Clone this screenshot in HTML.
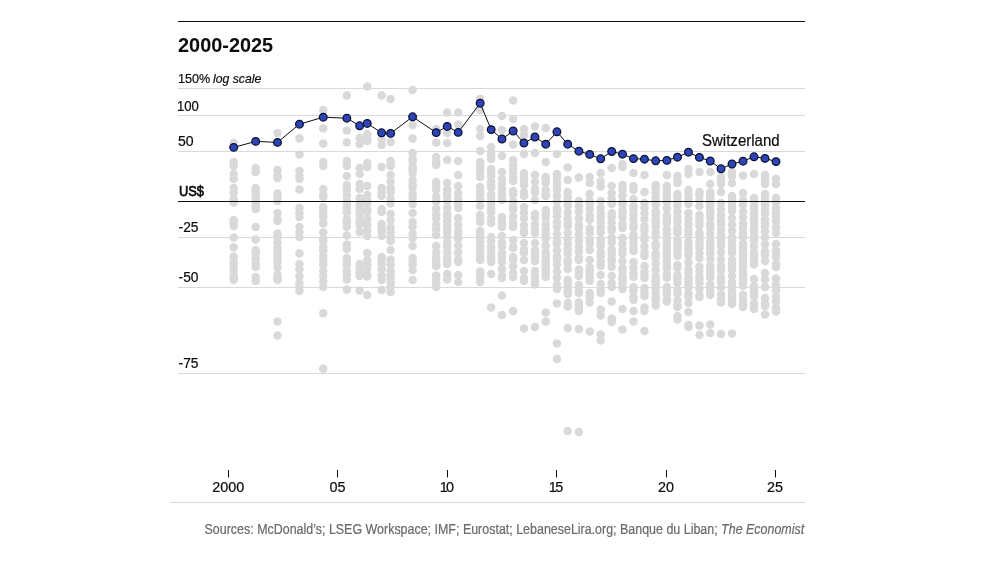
<!DOCTYPE html>
<html lang="en">
<head>
<meta charset="utf-8">
<title>2000-2025</title>
<style>
html,body{margin:0;padding:0;background:#fff;}
body{width:1001px;height:563px;position:relative;overflow:hidden;font-family:"Liberation Sans",sans-serif;color:#0d0d0d;}
svg{position:absolute;left:0;top:0;}
.layer{position:absolute;left:0;top:0;width:1001px;height:563px;will-change:transform;}
.t{position:absolute;white-space:nowrap;line-height:1;-webkit-text-stroke:0.22px currentColor;}
</style>
</head>
<body>
<svg width="1001" height="563" viewBox="0 0 1001 563">
<line x1="178" x2="805" y1="88.5" y2="88.5" stroke="#d9d9d9" stroke-width="1"/>
<line x1="178" x2="805" y1="115.5" y2="115.5" stroke="#d9d9d9" stroke-width="1"/>
<line x1="178" x2="805" y1="151.5" y2="151.5" stroke="#d9d9d9" stroke-width="1"/>
<line x1="178" x2="805" y1="237.5" y2="237.5" stroke="#d9d9d9" stroke-width="1"/>
<line x1="178" x2="805" y1="287.5" y2="287.5" stroke="#d9d9d9" stroke-width="1"/>
<line x1="178" x2="805" y1="373.5" y2="373.5" stroke="#d9d9d9" stroke-width="1"/>
<g fill="#d9d9d9">
<circle cx="233.70" cy="143.0" r="4.25"/>
<circle cx="233.70" cy="162.0" r="4.25"/>
<circle cx="233.70" cy="166.0" r="4.25"/>
<circle cx="233.70" cy="174.0" r="4.25"/>
<circle cx="233.70" cy="179.0" r="4.25"/>
<circle cx="233.70" cy="188.0" r="4.25"/>
<circle cx="233.70" cy="192.8" r="4.25"/>
<circle cx="233.70" cy="199.2" r="4.25"/>
<circle cx="233.70" cy="202.6" r="4.25"/>
<circle cx="233.70" cy="219.9" r="4.25"/>
<circle cx="233.70" cy="222.9" r="4.25"/>
<circle cx="233.70" cy="226.0" r="4.25"/>
<circle cx="233.70" cy="237.5" r="4.25"/>
<circle cx="233.70" cy="247.3" r="4.25"/>
<circle cx="233.70" cy="256.5" r="4.25"/>
<circle cx="233.70" cy="262.1" r="4.25"/>
<circle cx="233.70" cy="265.1" r="4.25"/>
<circle cx="233.70" cy="269.3" r="4.25"/>
<circle cx="233.70" cy="274.9" r="4.25"/>
<circle cx="233.70" cy="277.9" r="4.25"/>
<circle cx="233.70" cy="280.0" r="4.25"/>
<circle cx="255.69" cy="168.0" r="4.25"/>
<circle cx="255.69" cy="172.0" r="4.25"/>
<circle cx="255.69" cy="188.0" r="4.25"/>
<circle cx="255.69" cy="191.0" r="4.25"/>
<circle cx="255.69" cy="194.0" r="4.25"/>
<circle cx="255.69" cy="198.8" r="4.25"/>
<circle cx="255.69" cy="203.6" r="4.25"/>
<circle cx="255.69" cy="206.6" r="4.25"/>
<circle cx="255.69" cy="209.0" r="4.25"/>
<circle cx="255.69" cy="227.0" r="4.25"/>
<circle cx="255.69" cy="239.6" r="4.25"/>
<circle cx="255.69" cy="250.0" r="4.25"/>
<circle cx="255.69" cy="253.0" r="4.25"/>
<circle cx="255.69" cy="258.6" r="4.25"/>
<circle cx="255.69" cy="263.4" r="4.25"/>
<circle cx="255.69" cy="267.0" r="4.25"/>
<circle cx="255.69" cy="277.0" r="4.25"/>
<circle cx="255.69" cy="281.0" r="4.25"/>
<circle cx="277.48" cy="133.0" r="4.25"/>
<circle cx="277.48" cy="170.0" r="4.25"/>
<circle cx="277.48" cy="175.6" r="4.25"/>
<circle cx="277.48" cy="178.0" r="4.25"/>
<circle cx="277.48" cy="193.5" r="4.25"/>
<circle cx="277.48" cy="197.1" r="4.25"/>
<circle cx="277.48" cy="201.0" r="4.25"/>
<circle cx="277.48" cy="213.0" r="4.25"/>
<circle cx="277.48" cy="219.4" r="4.25"/>
<circle cx="277.48" cy="221.0" r="4.25"/>
<circle cx="277.48" cy="233.6" r="4.25"/>
<circle cx="277.48" cy="236.6" r="4.25"/>
<circle cx="277.48" cy="242.2" r="4.25"/>
<circle cx="277.48" cy="247.8" r="4.25"/>
<circle cx="277.48" cy="252.6" r="4.25"/>
<circle cx="277.48" cy="255.6" r="4.25"/>
<circle cx="277.48" cy="259.2" r="4.25"/>
<circle cx="277.48" cy="262.2" r="4.25"/>
<circle cx="277.48" cy="267.8" r="4.25"/>
<circle cx="277.48" cy="274.8" r="4.25"/>
<circle cx="277.48" cy="278.4" r="4.25"/>
<circle cx="277.48" cy="280.0" r="4.25"/>
<circle cx="277.48" cy="321.6" r="4.25"/>
<circle cx="277.48" cy="335.4" r="4.25"/>
<circle cx="299.46" cy="138.6" r="4.25"/>
<circle cx="299.46" cy="154.4" r="4.25"/>
<circle cx="299.46" cy="171.0" r="4.25"/>
<circle cx="299.46" cy="175.8" r="4.25"/>
<circle cx="299.46" cy="179.0" r="4.25"/>
<circle cx="299.46" cy="189.6" r="4.25"/>
<circle cx="299.46" cy="208.0" r="4.25"/>
<circle cx="299.46" cy="213.6" r="4.25"/>
<circle cx="299.46" cy="217.0" r="4.25"/>
<circle cx="299.46" cy="227.0" r="4.25"/>
<circle cx="299.46" cy="232.6" r="4.25"/>
<circle cx="299.46" cy="237.0" r="4.25"/>
<circle cx="299.46" cy="253.4" r="4.25"/>
<circle cx="299.46" cy="264.0" r="4.25"/>
<circle cx="299.46" cy="269.6" r="4.25"/>
<circle cx="299.46" cy="276.6" r="4.25"/>
<circle cx="299.46" cy="283.0" r="4.25"/>
<circle cx="299.46" cy="286.6" r="4.25"/>
<circle cx="299.46" cy="291.0" r="4.25"/>
<circle cx="323.25" cy="110.0" r="4.25"/>
<circle cx="323.25" cy="128.6" r="4.25"/>
<circle cx="323.25" cy="143.6" r="4.25"/>
<circle cx="323.25" cy="162.0" r="4.25"/>
<circle cx="323.25" cy="166.0" r="4.25"/>
<circle cx="323.25" cy="189.0" r="4.25"/>
<circle cx="323.25" cy="194.6" r="4.25"/>
<circle cx="323.25" cy="197.0" r="4.25"/>
<circle cx="323.25" cy="207.0" r="4.25"/>
<circle cx="323.25" cy="210.6" r="4.25"/>
<circle cx="323.25" cy="214.8" r="4.25"/>
<circle cx="323.25" cy="217.8" r="4.25"/>
<circle cx="323.25" cy="223.6" r="4.25"/>
<circle cx="323.25" cy="232.4" r="4.25"/>
<circle cx="323.25" cy="238.8" r="4.25"/>
<circle cx="323.25" cy="241.8" r="4.25"/>
<circle cx="323.25" cy="247.4" r="4.25"/>
<circle cx="323.25" cy="250.4" r="4.25"/>
<circle cx="323.25" cy="256.0" r="4.25"/>
<circle cx="323.25" cy="259.6" r="4.25"/>
<circle cx="323.25" cy="264.4" r="4.25"/>
<circle cx="323.25" cy="270.8" r="4.25"/>
<circle cx="323.25" cy="276.4" r="4.25"/>
<circle cx="323.25" cy="281.2" r="4.25"/>
<circle cx="323.25" cy="287.0" r="4.25"/>
<circle cx="323.25" cy="313.2" r="4.25"/>
<circle cx="323.25" cy="368.8" r="4.25"/>
<circle cx="346.84" cy="95.4" r="4.25"/>
<circle cx="346.84" cy="130.6" r="4.25"/>
<circle cx="346.84" cy="142.4" r="4.25"/>
<circle cx="346.84" cy="161.0" r="4.25"/>
<circle cx="346.84" cy="166.0" r="4.25"/>
<circle cx="346.84" cy="176.0" r="4.25"/>
<circle cx="346.84" cy="185.0" r="4.25"/>
<circle cx="346.84" cy="189.8" r="4.25"/>
<circle cx="346.84" cy="195.4" r="4.25"/>
<circle cx="346.84" cy="200.2" r="4.25"/>
<circle cx="346.84" cy="204.4" r="4.25"/>
<circle cx="346.84" cy="208.6" r="4.25"/>
<circle cx="346.84" cy="212.2" r="4.25"/>
<circle cx="346.84" cy="219.2" r="4.25"/>
<circle cx="346.84" cy="222.8" r="4.25"/>
<circle cx="346.84" cy="227.0" r="4.25"/>
<circle cx="346.84" cy="235.6" r="4.25"/>
<circle cx="346.84" cy="244.6" r="4.25"/>
<circle cx="346.84" cy="249.0" r="4.25"/>
<circle cx="346.84" cy="258.0" r="4.25"/>
<circle cx="346.84" cy="261.6" r="4.25"/>
<circle cx="346.84" cy="264.6" r="4.25"/>
<circle cx="346.84" cy="270.2" r="4.25"/>
<circle cx="346.84" cy="274.4" r="4.25"/>
<circle cx="346.84" cy="279.6" r="4.25"/>
<circle cx="346.84" cy="289.4" r="4.25"/>
<circle cx="359.63" cy="138.0" r="4.25"/>
<circle cx="359.63" cy="144.0" r="4.25"/>
<circle cx="359.63" cy="168.0" r="4.25"/>
<circle cx="359.63" cy="174.0" r="4.25"/>
<circle cx="359.63" cy="184.0" r="4.25"/>
<circle cx="359.63" cy="189.0" r="4.25"/>
<circle cx="359.63" cy="198.0" r="4.25"/>
<circle cx="359.63" cy="204.4" r="4.25"/>
<circle cx="359.63" cy="209.2" r="4.25"/>
<circle cx="359.63" cy="213.4" r="4.25"/>
<circle cx="359.63" cy="219.0" r="4.25"/>
<circle cx="359.63" cy="222.0" r="4.25"/>
<circle cx="359.63" cy="225.0" r="4.25"/>
<circle cx="359.63" cy="232.0" r="4.25"/>
<circle cx="359.63" cy="264.0" r="4.25"/>
<circle cx="359.63" cy="268.8" r="4.25"/>
<circle cx="359.63" cy="272.4" r="4.25"/>
<circle cx="359.63" cy="276.0" r="4.25"/>
<circle cx="359.63" cy="290.4" r="4.25"/>
<circle cx="367.23" cy="86.4" r="4.25"/>
<circle cx="367.23" cy="134.0" r="4.25"/>
<circle cx="367.23" cy="138.2" r="4.25"/>
<circle cx="367.23" cy="141.0" r="4.25"/>
<circle cx="367.23" cy="163.0" r="4.25"/>
<circle cx="367.23" cy="167.0" r="4.25"/>
<circle cx="367.23" cy="186.0" r="4.25"/>
<circle cx="367.23" cy="195.0" r="4.25"/>
<circle cx="367.23" cy="199.8" r="4.25"/>
<circle cx="367.23" cy="202.8" r="4.25"/>
<circle cx="367.23" cy="209.2" r="4.25"/>
<circle cx="367.23" cy="212.2" r="4.25"/>
<circle cx="367.23" cy="219.2" r="4.25"/>
<circle cx="367.23" cy="224.8" r="4.25"/>
<circle cx="367.23" cy="230.4" r="4.25"/>
<circle cx="367.23" cy="236.0" r="4.25"/>
<circle cx="367.23" cy="253.0" r="4.25"/>
<circle cx="367.23" cy="260.0" r="4.25"/>
<circle cx="367.23" cy="264.2" r="4.25"/>
<circle cx="367.23" cy="268.4" r="4.25"/>
<circle cx="367.23" cy="274.8" r="4.25"/>
<circle cx="367.23" cy="276.4" r="4.25"/>
<circle cx="367.23" cy="295.0" r="4.25"/>
<circle cx="381.62" cy="95.4" r="4.25"/>
<circle cx="381.62" cy="139.0" r="4.25"/>
<circle cx="381.62" cy="145.0" r="4.25"/>
<circle cx="381.62" cy="167.0" r="4.25"/>
<circle cx="381.62" cy="188.0" r="4.25"/>
<circle cx="381.62" cy="192.8" r="4.25"/>
<circle cx="381.62" cy="196.0" r="4.25"/>
<circle cx="381.62" cy="209.0" r="4.25"/>
<circle cx="381.62" cy="212.0" r="4.25"/>
<circle cx="381.62" cy="224.0" r="4.25"/>
<circle cx="381.62" cy="228.8" r="4.25"/>
<circle cx="381.62" cy="231.8" r="4.25"/>
<circle cx="381.62" cy="236.0" r="4.25"/>
<circle cx="381.62" cy="257.0" r="4.25"/>
<circle cx="381.62" cy="260.0" r="4.25"/>
<circle cx="381.62" cy="264.2" r="4.25"/>
<circle cx="381.62" cy="269.0" r="4.25"/>
<circle cx="381.62" cy="275.4" r="4.25"/>
<circle cx="381.62" cy="280.0" r="4.25"/>
<circle cx="381.62" cy="290.0" r="4.25"/>
<circle cx="390.61" cy="99.0" r="4.25"/>
<circle cx="390.61" cy="142.0" r="4.25"/>
<circle cx="390.61" cy="161.0" r="4.25"/>
<circle cx="390.61" cy="164.0" r="4.25"/>
<circle cx="390.61" cy="166.0" r="4.25"/>
<circle cx="390.61" cy="175.0" r="4.25"/>
<circle cx="390.61" cy="181.4" r="4.25"/>
<circle cx="390.61" cy="187.8" r="4.25"/>
<circle cx="390.61" cy="192.0" r="4.25"/>
<circle cx="390.61" cy="198.4" r="4.25"/>
<circle cx="390.61" cy="203.6" r="4.25"/>
<circle cx="390.61" cy="214.0" r="4.25"/>
<circle cx="390.61" cy="220.4" r="4.25"/>
<circle cx="390.61" cy="227.4" r="4.25"/>
<circle cx="390.61" cy="232.2" r="4.25"/>
<circle cx="390.61" cy="236.4" r="4.25"/>
<circle cx="390.61" cy="241.0" r="4.25"/>
<circle cx="390.61" cy="250.0" r="4.25"/>
<circle cx="390.61" cy="259.6" r="4.25"/>
<circle cx="390.61" cy="264.4" r="4.25"/>
<circle cx="390.61" cy="270.8" r="4.25"/>
<circle cx="390.61" cy="275.0" r="4.25"/>
<circle cx="390.61" cy="278.0" r="4.25"/>
<circle cx="390.61" cy="282.8" r="4.25"/>
<circle cx="390.61" cy="287.0" r="4.25"/>
<circle cx="390.61" cy="292.0" r="4.25"/>
<circle cx="412.60" cy="90.0" r="4.25"/>
<circle cx="412.60" cy="125.0" r="4.25"/>
<circle cx="412.60" cy="138.6" r="4.25"/>
<circle cx="412.60" cy="153.0" r="4.25"/>
<circle cx="412.60" cy="158.6" r="4.25"/>
<circle cx="412.60" cy="161.6" r="4.25"/>
<circle cx="412.60" cy="166.4" r="4.25"/>
<circle cx="412.60" cy="169.4" r="4.25"/>
<circle cx="412.60" cy="173.0" r="4.25"/>
<circle cx="412.60" cy="180.0" r="4.25"/>
<circle cx="412.60" cy="184.2" r="4.25"/>
<circle cx="412.60" cy="187.8" r="4.25"/>
<circle cx="412.60" cy="194.2" r="4.25"/>
<circle cx="412.60" cy="197.8" r="4.25"/>
<circle cx="412.60" cy="204.0" r="4.25"/>
<circle cx="412.60" cy="213.0" r="4.25"/>
<circle cx="412.60" cy="222.0" r="4.25"/>
<circle cx="412.60" cy="226.8" r="4.25"/>
<circle cx="412.60" cy="233.8" r="4.25"/>
<circle cx="412.60" cy="238.0" r="4.25"/>
<circle cx="412.60" cy="246.0" r="4.25"/>
<circle cx="412.60" cy="258.0" r="4.25"/>
<circle cx="412.60" cy="261.0" r="4.25"/>
<circle cx="412.60" cy="264.6" r="4.25"/>
<circle cx="412.60" cy="270.0" r="4.25"/>
<circle cx="412.60" cy="280.0" r="4.25"/>
<circle cx="436.19" cy="129.0" r="4.25"/>
<circle cx="436.19" cy="142.6" r="4.25"/>
<circle cx="436.19" cy="157.0" r="4.25"/>
<circle cx="436.19" cy="161.8" r="4.25"/>
<circle cx="436.19" cy="165.0" r="4.25"/>
<circle cx="436.19" cy="182.0" r="4.25"/>
<circle cx="436.19" cy="186.2" r="4.25"/>
<circle cx="436.19" cy="189.8" r="4.25"/>
<circle cx="436.19" cy="196.8" r="4.25"/>
<circle cx="436.19" cy="201.6" r="4.25"/>
<circle cx="436.19" cy="208.6" r="4.25"/>
<circle cx="436.19" cy="214.2" r="4.25"/>
<circle cx="436.19" cy="218.4" r="4.25"/>
<circle cx="436.19" cy="224.8" r="4.25"/>
<circle cx="436.19" cy="229.6" r="4.25"/>
<circle cx="436.19" cy="235.0" r="4.25"/>
<circle cx="436.19" cy="246.0" r="4.25"/>
<circle cx="436.19" cy="252.4" r="4.25"/>
<circle cx="436.19" cy="257.2" r="4.25"/>
<circle cx="436.19" cy="260.8" r="4.25"/>
<circle cx="436.19" cy="264.4" r="4.25"/>
<circle cx="436.19" cy="266.0" r="4.25"/>
<circle cx="436.19" cy="275.6" r="4.25"/>
<circle cx="436.19" cy="279.2" r="4.25"/>
<circle cx="436.19" cy="282.8" r="4.25"/>
<circle cx="436.19" cy="287.0" r="4.25"/>
<circle cx="447.18" cy="112.4" r="4.25"/>
<circle cx="447.18" cy="133.0" r="4.25"/>
<circle cx="447.18" cy="143.0" r="4.25"/>
<circle cx="447.18" cy="160.0" r="4.25"/>
<circle cx="447.18" cy="183.0" r="4.25"/>
<circle cx="447.18" cy="189.4" r="4.25"/>
<circle cx="447.18" cy="193.0" r="4.25"/>
<circle cx="447.18" cy="196.0" r="4.25"/>
<circle cx="447.18" cy="200.8" r="4.25"/>
<circle cx="447.18" cy="207.8" r="4.25"/>
<circle cx="447.18" cy="213.4" r="4.25"/>
<circle cx="447.18" cy="217.0" r="4.25"/>
<circle cx="447.18" cy="221.2" r="4.25"/>
<circle cx="447.18" cy="225.4" r="4.25"/>
<circle cx="447.18" cy="228.4" r="4.25"/>
<circle cx="447.18" cy="232.0" r="4.25"/>
<circle cx="447.18" cy="236.8" r="4.25"/>
<circle cx="447.18" cy="242.4" r="4.25"/>
<circle cx="447.18" cy="246.6" r="4.25"/>
<circle cx="447.18" cy="252.2" r="4.25"/>
<circle cx="447.18" cy="257.8" r="4.25"/>
<circle cx="447.18" cy="262.0" r="4.25"/>
<circle cx="447.18" cy="264.0" r="4.25"/>
<circle cx="447.18" cy="274.0" r="4.25"/>
<circle cx="447.18" cy="279.6" r="4.25"/>
<circle cx="458.18" cy="112.4" r="4.25"/>
<circle cx="458.18" cy="124.4" r="4.25"/>
<circle cx="458.18" cy="161.0" r="4.25"/>
<circle cx="458.18" cy="175.0" r="4.25"/>
<circle cx="458.18" cy="186.0" r="4.25"/>
<circle cx="458.18" cy="193.0" r="4.25"/>
<circle cx="458.18" cy="198.6" r="4.25"/>
<circle cx="458.18" cy="204.2" r="4.25"/>
<circle cx="458.18" cy="208.0" r="4.25"/>
<circle cx="458.18" cy="218.0" r="4.25"/>
<circle cx="458.18" cy="224.4" r="4.25"/>
<circle cx="458.18" cy="230.8" r="4.25"/>
<circle cx="458.18" cy="233.8" r="4.25"/>
<circle cx="458.18" cy="238.6" r="4.25"/>
<circle cx="458.18" cy="245.6" r="4.25"/>
<circle cx="458.18" cy="252.6" r="4.25"/>
<circle cx="458.18" cy="259.6" r="4.25"/>
<circle cx="458.18" cy="262.0" r="4.25"/>
<circle cx="458.18" cy="275.0" r="4.25"/>
<circle cx="458.18" cy="282.0" r="4.25"/>
<circle cx="480.16" cy="99.0" r="4.25"/>
<circle cx="480.16" cy="110.0" r="4.25"/>
<circle cx="480.16" cy="129.0" r="4.25"/>
<circle cx="480.16" cy="136.0" r="4.25"/>
<circle cx="480.16" cy="151.0" r="4.25"/>
<circle cx="480.16" cy="162.0" r="4.25"/>
<circle cx="480.16" cy="166.8" r="4.25"/>
<circle cx="480.16" cy="171.6" r="4.25"/>
<circle cx="480.16" cy="177.0" r="4.25"/>
<circle cx="480.16" cy="187.0" r="4.25"/>
<circle cx="480.16" cy="191.8" r="4.25"/>
<circle cx="480.16" cy="194.8" r="4.25"/>
<circle cx="480.16" cy="199.6" r="4.25"/>
<circle cx="480.16" cy="206.0" r="4.25"/>
<circle cx="480.16" cy="215.0" r="4.25"/>
<circle cx="480.16" cy="219.8" r="4.25"/>
<circle cx="480.16" cy="222.0" r="4.25"/>
<circle cx="480.16" cy="231.0" r="4.25"/>
<circle cx="480.16" cy="234.6" r="4.25"/>
<circle cx="480.16" cy="237.6" r="4.25"/>
<circle cx="480.16" cy="241.2" r="4.25"/>
<circle cx="480.16" cy="246.0" r="4.25"/>
<circle cx="480.16" cy="249.6" r="4.25"/>
<circle cx="480.16" cy="252.6" r="4.25"/>
<circle cx="480.16" cy="256.8" r="4.25"/>
<circle cx="480.16" cy="260.0" r="4.25"/>
<circle cx="480.16" cy="271.6" r="4.25"/>
<circle cx="480.16" cy="274.6" r="4.25"/>
<circle cx="480.16" cy="277.6" r="4.25"/>
<circle cx="480.16" cy="282.0" r="4.25"/>
<circle cx="491.16" cy="147.0" r="4.25"/>
<circle cx="491.16" cy="152.6" r="4.25"/>
<circle cx="491.16" cy="156.2" r="4.25"/>
<circle cx="491.16" cy="159.0" r="4.25"/>
<circle cx="491.16" cy="169.0" r="4.25"/>
<circle cx="491.16" cy="172.0" r="4.25"/>
<circle cx="491.16" cy="176.2" r="4.25"/>
<circle cx="491.16" cy="181.8" r="4.25"/>
<circle cx="491.16" cy="184.8" r="4.25"/>
<circle cx="491.16" cy="187.8" r="4.25"/>
<circle cx="491.16" cy="194.8" r="4.25"/>
<circle cx="491.16" cy="198.4" r="4.25"/>
<circle cx="491.16" cy="204.0" r="4.25"/>
<circle cx="491.16" cy="208.8" r="4.25"/>
<circle cx="491.16" cy="212.4" r="4.25"/>
<circle cx="491.16" cy="218.8" r="4.25"/>
<circle cx="491.16" cy="223.0" r="4.25"/>
<circle cx="491.16" cy="237.0" r="4.25"/>
<circle cx="491.16" cy="241.2" r="4.25"/>
<circle cx="491.16" cy="246.8" r="4.25"/>
<circle cx="491.16" cy="251.0" r="4.25"/>
<circle cx="491.16" cy="255.8" r="4.25"/>
<circle cx="491.16" cy="258.8" r="4.25"/>
<circle cx="491.16" cy="262.0" r="4.25"/>
<circle cx="491.16" cy="274.0" r="4.25"/>
<circle cx="491.16" cy="307.6" r="4.25"/>
<circle cx="501.95" cy="116.0" r="4.25"/>
<circle cx="501.95" cy="130.0" r="4.25"/>
<circle cx="501.95" cy="156.0" r="4.25"/>
<circle cx="501.95" cy="172.0" r="4.25"/>
<circle cx="501.95" cy="179.0" r="4.25"/>
<circle cx="501.95" cy="183.8" r="4.25"/>
<circle cx="501.95" cy="188.6" r="4.25"/>
<circle cx="501.95" cy="193.4" r="4.25"/>
<circle cx="501.95" cy="198.2" r="4.25"/>
<circle cx="501.95" cy="200.0" r="4.25"/>
<circle cx="501.95" cy="217.0" r="4.25"/>
<circle cx="501.95" cy="220.0" r="4.25"/>
<circle cx="501.95" cy="223.6" r="4.25"/>
<circle cx="501.95" cy="227.0" r="4.25"/>
<circle cx="501.95" cy="236.0" r="4.25"/>
<circle cx="501.95" cy="242.4" r="4.25"/>
<circle cx="501.95" cy="246.6" r="4.25"/>
<circle cx="501.95" cy="253.0" r="4.25"/>
<circle cx="501.95" cy="257.2" r="4.25"/>
<circle cx="501.95" cy="262.0" r="4.25"/>
<circle cx="501.95" cy="269.0" r="4.25"/>
<circle cx="501.95" cy="275.4" r="4.25"/>
<circle cx="501.95" cy="278.0" r="4.25"/>
<circle cx="501.95" cy="295.4" r="4.25"/>
<circle cx="501.95" cy="315.0" r="4.25"/>
<circle cx="513.15" cy="100.6" r="4.25"/>
<circle cx="513.15" cy="119.0" r="4.25"/>
<circle cx="513.15" cy="144.4" r="4.25"/>
<circle cx="513.15" cy="160.0" r="4.25"/>
<circle cx="513.15" cy="165.6" r="4.25"/>
<circle cx="513.15" cy="168.6" r="4.25"/>
<circle cx="513.15" cy="172.2" r="4.25"/>
<circle cx="513.15" cy="177.8" r="4.25"/>
<circle cx="513.15" cy="181.0" r="4.25"/>
<circle cx="513.15" cy="191.0" r="4.25"/>
<circle cx="513.15" cy="194.6" r="4.25"/>
<circle cx="513.15" cy="201.0" r="4.25"/>
<circle cx="513.15" cy="206.6" r="4.25"/>
<circle cx="513.15" cy="209.6" r="4.25"/>
<circle cx="513.15" cy="216.6" r="4.25"/>
<circle cx="513.15" cy="222.2" r="4.25"/>
<circle cx="513.15" cy="227.0" r="4.25"/>
<circle cx="513.15" cy="240.0" r="4.25"/>
<circle cx="513.15" cy="246.4" r="4.25"/>
<circle cx="513.15" cy="248.0" r="4.25"/>
<circle cx="513.15" cy="257.0" r="4.25"/>
<circle cx="513.15" cy="260.0" r="4.25"/>
<circle cx="513.15" cy="266.4" r="4.25"/>
<circle cx="513.15" cy="273.4" r="4.25"/>
<circle cx="513.15" cy="277.0" r="4.25"/>
<circle cx="513.15" cy="311.0" r="4.25"/>
<circle cx="523.94" cy="129.0" r="4.25"/>
<circle cx="523.94" cy="135.0" r="4.25"/>
<circle cx="523.94" cy="154.0" r="4.25"/>
<circle cx="523.94" cy="173.0" r="4.25"/>
<circle cx="523.94" cy="177.2" r="4.25"/>
<circle cx="523.94" cy="180.8" r="4.25"/>
<circle cx="523.94" cy="185.0" r="4.25"/>
<circle cx="523.94" cy="192.0" r="4.25"/>
<circle cx="523.94" cy="196.0" r="4.25"/>
<circle cx="523.94" cy="207.0" r="4.25"/>
<circle cx="523.94" cy="212.6" r="4.25"/>
<circle cx="523.94" cy="218.2" r="4.25"/>
<circle cx="523.94" cy="225.2" r="4.25"/>
<circle cx="523.94" cy="230.8" r="4.25"/>
<circle cx="523.94" cy="233.0" r="4.25"/>
<circle cx="523.94" cy="243.0" r="4.25"/>
<circle cx="523.94" cy="249.4" r="4.25"/>
<circle cx="523.94" cy="253.0" r="4.25"/>
<circle cx="523.94" cy="260.0" r="4.25"/>
<circle cx="523.94" cy="271.0" r="4.25"/>
<circle cx="523.94" cy="278.0" r="4.25"/>
<circle cx="523.94" cy="281.0" r="4.25"/>
<circle cx="523.94" cy="328.6" r="4.25"/>
<circle cx="534.93" cy="126.4" r="4.25"/>
<circle cx="534.93" cy="153.0" r="4.25"/>
<circle cx="534.93" cy="175.0" r="4.25"/>
<circle cx="534.93" cy="182.0" r="4.25"/>
<circle cx="534.93" cy="189.0" r="4.25"/>
<circle cx="534.93" cy="192.6" r="4.25"/>
<circle cx="534.93" cy="200.0" r="4.25"/>
<circle cx="534.93" cy="214.0" r="4.25"/>
<circle cx="534.93" cy="217.6" r="4.25"/>
<circle cx="534.93" cy="224.6" r="4.25"/>
<circle cx="534.93" cy="229.4" r="4.25"/>
<circle cx="534.93" cy="233.0" r="4.25"/>
<circle cx="534.93" cy="243.0" r="4.25"/>
<circle cx="534.93" cy="250.0" r="4.25"/>
<circle cx="534.93" cy="253.6" r="4.25"/>
<circle cx="534.93" cy="257.2" r="4.25"/>
<circle cx="534.93" cy="261.0" r="4.25"/>
<circle cx="534.93" cy="271.0" r="4.25"/>
<circle cx="534.93" cy="275.8" r="4.25"/>
<circle cx="534.93" cy="280.0" r="4.25"/>
<circle cx="534.93" cy="284.6" r="4.25"/>
<circle cx="534.93" cy="327.0" r="4.25"/>
<circle cx="545.73" cy="128.0" r="4.25"/>
<circle cx="545.73" cy="162.0" r="4.25"/>
<circle cx="545.73" cy="177.0" r="4.25"/>
<circle cx="545.73" cy="180.0" r="4.25"/>
<circle cx="545.73" cy="183.0" r="4.25"/>
<circle cx="545.73" cy="190.0" r="4.25"/>
<circle cx="545.73" cy="194.2" r="4.25"/>
<circle cx="545.73" cy="196.0" r="4.25"/>
<circle cx="545.73" cy="210.0" r="4.25"/>
<circle cx="545.73" cy="214.2" r="4.25"/>
<circle cx="545.73" cy="217.8" r="4.25"/>
<circle cx="545.73" cy="224.2" r="4.25"/>
<circle cx="545.73" cy="229.8" r="4.25"/>
<circle cx="545.73" cy="234.0" r="4.25"/>
<circle cx="545.73" cy="238.8" r="4.25"/>
<circle cx="545.73" cy="245.8" r="4.25"/>
<circle cx="545.73" cy="252.2" r="4.25"/>
<circle cx="545.73" cy="256.4" r="4.25"/>
<circle cx="545.73" cy="260.6" r="4.25"/>
<circle cx="545.73" cy="263.6" r="4.25"/>
<circle cx="545.73" cy="267.2" r="4.25"/>
<circle cx="545.73" cy="270.2" r="4.25"/>
<circle cx="545.73" cy="273.8" r="4.25"/>
<circle cx="545.73" cy="277.0" r="4.25"/>
<circle cx="545.73" cy="312.6" r="4.25"/>
<circle cx="545.73" cy="321.6" r="4.25"/>
<circle cx="556.92" cy="154.0" r="4.25"/>
<circle cx="556.92" cy="174.0" r="4.25"/>
<circle cx="556.92" cy="177.6" r="4.25"/>
<circle cx="556.92" cy="181.8" r="4.25"/>
<circle cx="556.92" cy="185.4" r="4.25"/>
<circle cx="556.92" cy="190.2" r="4.25"/>
<circle cx="556.92" cy="195.8" r="4.25"/>
<circle cx="556.92" cy="201.4" r="4.25"/>
<circle cx="556.92" cy="208.4" r="4.25"/>
<circle cx="556.92" cy="211.4" r="4.25"/>
<circle cx="556.92" cy="216.2" r="4.25"/>
<circle cx="556.92" cy="222.6" r="4.25"/>
<circle cx="556.92" cy="226.8" r="4.25"/>
<circle cx="556.92" cy="233.8" r="4.25"/>
<circle cx="556.92" cy="240.2" r="4.25"/>
<circle cx="556.92" cy="243.2" r="4.25"/>
<circle cx="556.92" cy="250.2" r="4.25"/>
<circle cx="556.92" cy="256.6" r="4.25"/>
<circle cx="556.92" cy="259.6" r="4.25"/>
<circle cx="556.92" cy="264.4" r="4.25"/>
<circle cx="556.92" cy="271.4" r="4.25"/>
<circle cx="556.92" cy="277.8" r="4.25"/>
<circle cx="556.92" cy="284.8" r="4.25"/>
<circle cx="556.92" cy="289.0" r="4.25"/>
<circle cx="556.92" cy="303.4" r="4.25"/>
<circle cx="556.92" cy="343.4" r="4.25"/>
<circle cx="556.92" cy="359.0" r="4.25"/>
<circle cx="567.72" cy="167.4" r="4.25"/>
<circle cx="567.72" cy="180.0" r="4.25"/>
<circle cx="567.72" cy="192.0" r="4.25"/>
<circle cx="567.72" cy="196.8" r="4.25"/>
<circle cx="567.72" cy="200.4" r="4.25"/>
<circle cx="567.72" cy="205.2" r="4.25"/>
<circle cx="567.72" cy="212.2" r="4.25"/>
<circle cx="567.72" cy="218.6" r="4.25"/>
<circle cx="567.72" cy="222.8" r="4.25"/>
<circle cx="567.72" cy="225.8" r="4.25"/>
<circle cx="567.72" cy="232.8" r="4.25"/>
<circle cx="567.72" cy="239.2" r="4.25"/>
<circle cx="567.72" cy="244.0" r="4.25"/>
<circle cx="567.72" cy="248.8" r="4.25"/>
<circle cx="567.72" cy="253.6" r="4.25"/>
<circle cx="567.72" cy="260.0" r="4.25"/>
<circle cx="567.72" cy="263.0" r="4.25"/>
<circle cx="567.72" cy="269.0" r="4.25"/>
<circle cx="567.72" cy="280.0" r="4.25"/>
<circle cx="567.72" cy="283.6" r="4.25"/>
<circle cx="567.72" cy="287.2" r="4.25"/>
<circle cx="567.72" cy="290.8" r="4.25"/>
<circle cx="567.72" cy="294.0" r="4.25"/>
<circle cx="567.72" cy="303.0" r="4.25"/>
<circle cx="567.72" cy="306.5" r="4.25"/>
<circle cx="567.72" cy="328.0" r="4.25"/>
<circle cx="567.72" cy="431.0" r="4.25"/>
<circle cx="578.91" cy="177.4" r="4.25"/>
<circle cx="578.91" cy="201.0" r="4.25"/>
<circle cx="578.91" cy="206.6" r="4.25"/>
<circle cx="578.91" cy="211.4" r="4.25"/>
<circle cx="578.91" cy="218.4" r="4.25"/>
<circle cx="578.91" cy="224.8" r="4.25"/>
<circle cx="578.91" cy="228.4" r="4.25"/>
<circle cx="578.91" cy="234.0" r="4.25"/>
<circle cx="578.91" cy="241.0" r="4.25"/>
<circle cx="578.91" cy="246.6" r="4.25"/>
<circle cx="578.91" cy="251.4" r="4.25"/>
<circle cx="578.91" cy="257.8" r="4.25"/>
<circle cx="578.91" cy="260.0" r="4.25"/>
<circle cx="578.91" cy="269.6" r="4.25"/>
<circle cx="578.91" cy="273.2" r="4.25"/>
<circle cx="578.91" cy="276.0" r="4.25"/>
<circle cx="578.91" cy="285.0" r="4.25"/>
<circle cx="578.91" cy="290.6" r="4.25"/>
<circle cx="578.91" cy="293.0" r="4.25"/>
<circle cx="578.91" cy="302.6" r="4.25"/>
<circle cx="578.91" cy="305.6" r="4.25"/>
<circle cx="578.91" cy="308.6" r="4.25"/>
<circle cx="578.91" cy="311.0" r="4.25"/>
<circle cx="578.91" cy="329.0" r="4.25"/>
<circle cx="578.91" cy="432.0" r="4.25"/>
<circle cx="589.70" cy="177.0" r="4.25"/>
<circle cx="589.70" cy="183.0" r="4.25"/>
<circle cx="589.70" cy="194.0" r="4.25"/>
<circle cx="589.70" cy="200.4" r="4.25"/>
<circle cx="589.70" cy="203.4" r="4.25"/>
<circle cx="589.70" cy="209.0" r="4.25"/>
<circle cx="589.70" cy="215.4" r="4.25"/>
<circle cx="589.70" cy="219.7" r="4.25"/>
<circle cx="589.70" cy="228.5" r="4.25"/>
<circle cx="589.70" cy="233.3" r="4.25"/>
<circle cx="589.70" cy="240.3" r="4.25"/>
<circle cx="589.70" cy="243.9" r="4.25"/>
<circle cx="589.70" cy="250.0" r="4.25"/>
<circle cx="589.70" cy="260.0" r="4.25"/>
<circle cx="589.70" cy="267.0" r="4.25"/>
<circle cx="589.70" cy="270.6" r="4.25"/>
<circle cx="589.70" cy="273.6" r="4.25"/>
<circle cx="589.70" cy="277.8" r="4.25"/>
<circle cx="589.70" cy="281.0" r="4.25"/>
<circle cx="589.70" cy="293.0" r="4.25"/>
<circle cx="589.70" cy="297.2" r="4.25"/>
<circle cx="589.70" cy="302.6" r="4.25"/>
<circle cx="589.70" cy="331.6" r="4.25"/>
<circle cx="600.70" cy="173.0" r="4.25"/>
<circle cx="600.70" cy="181.5" r="4.25"/>
<circle cx="600.70" cy="186.5" r="4.25"/>
<circle cx="600.70" cy="201.0" r="4.25"/>
<circle cx="600.70" cy="208.0" r="4.25"/>
<circle cx="600.70" cy="213.6" r="4.25"/>
<circle cx="600.70" cy="217.8" r="4.25"/>
<circle cx="600.70" cy="222.0" r="4.25"/>
<circle cx="600.70" cy="227.6" r="4.25"/>
<circle cx="600.70" cy="232.4" r="4.25"/>
<circle cx="600.70" cy="239.4" r="4.25"/>
<circle cx="600.70" cy="243.0" r="4.25"/>
<circle cx="600.70" cy="246.0" r="4.25"/>
<circle cx="600.70" cy="252.4" r="4.25"/>
<circle cx="600.70" cy="256.6" r="4.25"/>
<circle cx="600.70" cy="261.4" r="4.25"/>
<circle cx="600.70" cy="266.0" r="4.25"/>
<circle cx="600.70" cy="275.0" r="4.25"/>
<circle cx="600.70" cy="284.0" r="4.25"/>
<circle cx="600.70" cy="289.6" r="4.25"/>
<circle cx="600.70" cy="293.0" r="4.25"/>
<circle cx="600.70" cy="309.6" r="4.25"/>
<circle cx="600.70" cy="315.6" r="4.25"/>
<circle cx="600.70" cy="334.4" r="4.25"/>
<circle cx="600.70" cy="340.4" r="4.25"/>
<circle cx="611.69" cy="168.0" r="4.25"/>
<circle cx="611.69" cy="186.0" r="4.25"/>
<circle cx="611.69" cy="193.0" r="4.25"/>
<circle cx="611.69" cy="198.6" r="4.25"/>
<circle cx="611.69" cy="202.2" r="4.25"/>
<circle cx="611.69" cy="204.0" r="4.25"/>
<circle cx="611.69" cy="213.0" r="4.25"/>
<circle cx="611.69" cy="216.6" r="4.25"/>
<circle cx="611.69" cy="222.2" r="4.25"/>
<circle cx="611.69" cy="227.8" r="4.25"/>
<circle cx="611.69" cy="230.8" r="4.25"/>
<circle cx="611.69" cy="237.8" r="4.25"/>
<circle cx="611.69" cy="242.6" r="4.25"/>
<circle cx="611.69" cy="249.6" r="4.25"/>
<circle cx="611.69" cy="253.2" r="4.25"/>
<circle cx="611.69" cy="258.8" r="4.25"/>
<circle cx="611.69" cy="261.8" r="4.25"/>
<circle cx="611.69" cy="267.0" r="4.25"/>
<circle cx="611.69" cy="276.0" r="4.25"/>
<circle cx="611.69" cy="283.0" r="4.25"/>
<circle cx="611.69" cy="287.0" r="4.25"/>
<circle cx="611.69" cy="301.6" r="4.25"/>
<circle cx="611.69" cy="318.4" r="4.25"/>
<circle cx="611.69" cy="322.0" r="4.25"/>
<circle cx="622.48" cy="164.0" r="4.25"/>
<circle cx="622.48" cy="167.0" r="4.25"/>
<circle cx="622.48" cy="185.0" r="4.25"/>
<circle cx="622.48" cy="189.8" r="4.25"/>
<circle cx="622.48" cy="195.4" r="4.25"/>
<circle cx="622.48" cy="201.8" r="4.25"/>
<circle cx="622.48" cy="204.8" r="4.25"/>
<circle cx="622.48" cy="210.4" r="4.25"/>
<circle cx="622.48" cy="213.4" r="4.25"/>
<circle cx="622.48" cy="217.6" r="4.25"/>
<circle cx="622.48" cy="224.0" r="4.25"/>
<circle cx="622.48" cy="228.0" r="4.25"/>
<circle cx="622.48" cy="238.0" r="4.25"/>
<circle cx="622.48" cy="243.6" r="4.25"/>
<circle cx="622.48" cy="249.2" r="4.25"/>
<circle cx="622.48" cy="254.0" r="4.25"/>
<circle cx="622.48" cy="261.0" r="4.25"/>
<circle cx="622.48" cy="268.0" r="4.25"/>
<circle cx="622.48" cy="271.0" r="4.25"/>
<circle cx="622.48" cy="276.6" r="4.25"/>
<circle cx="622.48" cy="279.6" r="4.25"/>
<circle cx="622.48" cy="283.2" r="4.25"/>
<circle cx="622.48" cy="286.8" r="4.25"/>
<circle cx="622.48" cy="289.0" r="4.25"/>
<circle cx="622.48" cy="309.0" r="4.25"/>
<circle cx="622.48" cy="329.6" r="4.25"/>
<circle cx="633.48" cy="173.0" r="4.25"/>
<circle cx="633.48" cy="186.0" r="4.25"/>
<circle cx="633.48" cy="190.0" r="4.25"/>
<circle cx="633.48" cy="199.0" r="4.25"/>
<circle cx="633.48" cy="206.0" r="4.25"/>
<circle cx="633.48" cy="209.0" r="4.25"/>
<circle cx="633.48" cy="214.6" r="4.25"/>
<circle cx="633.48" cy="219.4" r="4.25"/>
<circle cx="633.48" cy="225.0" r="4.25"/>
<circle cx="633.48" cy="228.0" r="4.25"/>
<circle cx="633.48" cy="235.0" r="4.25"/>
<circle cx="633.48" cy="238.0" r="4.25"/>
<circle cx="633.48" cy="242.8" r="4.25"/>
<circle cx="633.48" cy="247.0" r="4.25"/>
<circle cx="633.48" cy="251.0" r="4.25"/>
<circle cx="633.48" cy="262.0" r="4.25"/>
<circle cx="633.48" cy="267.6" r="4.25"/>
<circle cx="633.48" cy="273.2" r="4.25"/>
<circle cx="633.48" cy="277.0" r="4.25"/>
<circle cx="633.48" cy="287.0" r="4.25"/>
<circle cx="633.48" cy="290.6" r="4.25"/>
<circle cx="633.48" cy="297.0" r="4.25"/>
<circle cx="633.48" cy="300.0" r="4.25"/>
<circle cx="633.48" cy="311.0" r="4.25"/>
<circle cx="633.48" cy="321.6" r="4.25"/>
<circle cx="644.47" cy="175.0" r="4.25"/>
<circle cx="644.47" cy="192.0" r="4.25"/>
<circle cx="644.47" cy="203.0" r="4.25"/>
<circle cx="644.47" cy="207.8" r="4.25"/>
<circle cx="644.47" cy="213.4" r="4.25"/>
<circle cx="644.47" cy="219.0" r="4.25"/>
<circle cx="644.47" cy="226.0" r="4.25"/>
<circle cx="644.47" cy="230.8" r="4.25"/>
<circle cx="644.47" cy="236.4" r="4.25"/>
<circle cx="644.47" cy="240.0" r="4.25"/>
<circle cx="644.47" cy="246.4" r="4.25"/>
<circle cx="644.47" cy="252.0" r="4.25"/>
<circle cx="644.47" cy="256.0" r="4.25"/>
<circle cx="644.47" cy="266.0" r="4.25"/>
<circle cx="644.47" cy="271.6" r="4.25"/>
<circle cx="644.47" cy="275.2" r="4.25"/>
<circle cx="644.47" cy="278.0" r="4.25"/>
<circle cx="644.47" cy="288.0" r="4.25"/>
<circle cx="644.47" cy="292.8" r="4.25"/>
<circle cx="644.47" cy="296.0" r="4.25"/>
<circle cx="644.47" cy="307.6" r="4.25"/>
<circle cx="644.47" cy="311.0" r="4.25"/>
<circle cx="644.47" cy="331.0" r="4.25"/>
<circle cx="655.67" cy="185.0" r="4.25"/>
<circle cx="655.67" cy="188.0" r="4.25"/>
<circle cx="655.67" cy="192.8" r="4.25"/>
<circle cx="655.67" cy="197.6" r="4.25"/>
<circle cx="655.67" cy="201.8" r="4.25"/>
<circle cx="655.67" cy="204.8" r="4.25"/>
<circle cx="655.67" cy="211.2" r="4.25"/>
<circle cx="655.67" cy="214.8" r="4.25"/>
<circle cx="655.67" cy="219.6" r="4.25"/>
<circle cx="655.67" cy="222.6" r="4.25"/>
<circle cx="655.67" cy="226.2" r="4.25"/>
<circle cx="655.67" cy="232.6" r="4.25"/>
<circle cx="655.67" cy="236.8" r="4.25"/>
<circle cx="655.67" cy="243.8" r="4.25"/>
<circle cx="655.67" cy="246.8" r="4.25"/>
<circle cx="655.67" cy="253.8" r="4.25"/>
<circle cx="655.67" cy="257.4" r="4.25"/>
<circle cx="655.67" cy="263.8" r="4.25"/>
<circle cx="655.67" cy="270.2" r="4.25"/>
<circle cx="655.67" cy="276.6" r="4.25"/>
<circle cx="655.67" cy="280.8" r="4.25"/>
<circle cx="655.67" cy="284.4" r="4.25"/>
<circle cx="655.67" cy="288.6" r="4.25"/>
<circle cx="655.67" cy="292.2" r="4.25"/>
<circle cx="655.67" cy="297.0" r="4.25"/>
<circle cx="655.67" cy="300.6" r="4.25"/>
<circle cx="655.67" cy="305.6" r="4.25"/>
<circle cx="666.86" cy="175.0" r="4.25"/>
<circle cx="666.86" cy="186.0" r="4.25"/>
<circle cx="666.86" cy="189.0" r="4.25"/>
<circle cx="666.86" cy="193.8" r="4.25"/>
<circle cx="666.86" cy="198.6" r="4.25"/>
<circle cx="666.86" cy="202.2" r="4.25"/>
<circle cx="666.86" cy="208.6" r="4.25"/>
<circle cx="666.86" cy="215.6" r="4.25"/>
<circle cx="666.86" cy="219.2" r="4.25"/>
<circle cx="666.86" cy="222.8" r="4.25"/>
<circle cx="666.86" cy="229.2" r="4.25"/>
<circle cx="666.86" cy="234.0" r="4.25"/>
<circle cx="666.86" cy="239.6" r="4.25"/>
<circle cx="666.86" cy="244.4" r="4.25"/>
<circle cx="666.86" cy="248.6" r="4.25"/>
<circle cx="666.86" cy="253.4" r="4.25"/>
<circle cx="666.86" cy="257.0" r="4.25"/>
<circle cx="666.86" cy="261.2" r="4.25"/>
<circle cx="666.86" cy="265.4" r="4.25"/>
<circle cx="666.86" cy="268.4" r="4.25"/>
<circle cx="666.86" cy="274.8" r="4.25"/>
<circle cx="666.86" cy="278.0" r="4.25"/>
<circle cx="666.86" cy="287.0" r="4.25"/>
<circle cx="666.86" cy="290.0" r="4.25"/>
<circle cx="666.86" cy="294.2" r="4.25"/>
<circle cx="666.86" cy="299.8" r="4.25"/>
<circle cx="666.86" cy="301.6" r="4.25"/>
<circle cx="677.45" cy="176.0" r="4.25"/>
<circle cx="677.45" cy="180.8" r="4.25"/>
<circle cx="677.45" cy="183.0" r="4.25"/>
<circle cx="677.45" cy="194.0" r="4.25"/>
<circle cx="677.45" cy="197.0" r="4.25"/>
<circle cx="677.45" cy="201.8" r="4.25"/>
<circle cx="677.45" cy="206.0" r="4.25"/>
<circle cx="677.45" cy="211.6" r="4.25"/>
<circle cx="677.45" cy="217.2" r="4.25"/>
<circle cx="677.45" cy="221.4" r="4.25"/>
<circle cx="677.45" cy="227.0" r="4.25"/>
<circle cx="677.45" cy="230.0" r="4.25"/>
<circle cx="677.45" cy="233.0" r="4.25"/>
<circle cx="677.45" cy="240.0" r="4.25"/>
<circle cx="677.45" cy="243.6" r="4.25"/>
<circle cx="677.45" cy="246.6" r="4.25"/>
<circle cx="677.45" cy="249.6" r="4.25"/>
<circle cx="677.45" cy="253.8" r="4.25"/>
<circle cx="677.45" cy="256.0" r="4.25"/>
<circle cx="677.45" cy="265.0" r="4.25"/>
<circle cx="677.45" cy="268.0" r="4.25"/>
<circle cx="677.45" cy="275.0" r="4.25"/>
<circle cx="677.45" cy="278.6" r="4.25"/>
<circle cx="677.45" cy="282.8" r="4.25"/>
<circle cx="677.45" cy="289.8" r="4.25"/>
<circle cx="677.45" cy="293.4" r="4.25"/>
<circle cx="677.45" cy="300.4" r="4.25"/>
<circle cx="677.45" cy="305.2" r="4.25"/>
<circle cx="677.45" cy="307.0" r="4.25"/>
<circle cx="677.45" cy="316.0" r="4.25"/>
<circle cx="677.45" cy="319.6" r="4.25"/>
<circle cx="688.45" cy="169.0" r="4.25"/>
<circle cx="688.45" cy="174.0" r="4.25"/>
<circle cx="688.45" cy="190.0" r="4.25"/>
<circle cx="688.45" cy="194.2" r="4.25"/>
<circle cx="688.45" cy="199.0" r="4.25"/>
<circle cx="688.45" cy="204.0" r="4.25"/>
<circle cx="688.45" cy="213.0" r="4.25"/>
<circle cx="688.45" cy="218.6" r="4.25"/>
<circle cx="688.45" cy="224.2" r="4.25"/>
<circle cx="688.45" cy="229.8" r="4.25"/>
<circle cx="688.45" cy="234.6" r="4.25"/>
<circle cx="688.45" cy="241.0" r="4.25"/>
<circle cx="688.45" cy="245.2" r="4.25"/>
<circle cx="688.45" cy="248.2" r="4.25"/>
<circle cx="688.45" cy="252.4" r="4.25"/>
<circle cx="688.45" cy="255.4" r="4.25"/>
<circle cx="688.45" cy="262.4" r="4.25"/>
<circle cx="688.45" cy="268.8" r="4.25"/>
<circle cx="688.45" cy="272.4" r="4.25"/>
<circle cx="688.45" cy="277.2" r="4.25"/>
<circle cx="688.45" cy="280.2" r="4.25"/>
<circle cx="688.45" cy="284.4" r="4.25"/>
<circle cx="688.45" cy="287.4" r="4.25"/>
<circle cx="688.45" cy="293.8" r="4.25"/>
<circle cx="688.45" cy="296.8" r="4.25"/>
<circle cx="688.45" cy="303.0" r="4.25"/>
<circle cx="688.45" cy="312.0" r="4.25"/>
<circle cx="688.45" cy="325.0" r="4.25"/>
<circle cx="688.45" cy="327.0" r="4.25"/>
<circle cx="699.44" cy="172.0" r="4.25"/>
<circle cx="699.44" cy="192.0" r="4.25"/>
<circle cx="699.44" cy="195.0" r="4.25"/>
<circle cx="699.44" cy="200.6" r="4.25"/>
<circle cx="699.44" cy="206.0" r="4.25"/>
<circle cx="699.44" cy="215.0" r="4.25"/>
<circle cx="699.44" cy="218.6" r="4.25"/>
<circle cx="699.44" cy="221.6" r="4.25"/>
<circle cx="699.44" cy="225.8" r="4.25"/>
<circle cx="699.44" cy="232.8" r="4.25"/>
<circle cx="699.44" cy="235.8" r="4.25"/>
<circle cx="699.44" cy="240.6" r="4.25"/>
<circle cx="699.44" cy="243.6" r="4.25"/>
<circle cx="699.44" cy="247.8" r="4.25"/>
<circle cx="699.44" cy="253.4" r="4.25"/>
<circle cx="699.44" cy="258.0" r="4.25"/>
<circle cx="699.44" cy="266.8" r="4.25"/>
<circle cx="699.44" cy="271.0" r="4.25"/>
<circle cx="699.44" cy="276.6" r="4.25"/>
<circle cx="699.44" cy="280.2" r="4.25"/>
<circle cx="699.44" cy="283.2" r="4.25"/>
<circle cx="699.44" cy="288.8" r="4.25"/>
<circle cx="699.44" cy="295.2" r="4.25"/>
<circle cx="699.44" cy="297.0" r="4.25"/>
<circle cx="699.44" cy="325.4" r="4.25"/>
<circle cx="699.44" cy="335.0" r="4.25"/>
<circle cx="710.24" cy="172.0" r="4.25"/>
<circle cx="710.24" cy="184.0" r="4.25"/>
<circle cx="710.24" cy="192.5" r="4.25"/>
<circle cx="710.24" cy="195.5" r="4.25"/>
<circle cx="710.24" cy="199.1" r="4.25"/>
<circle cx="710.24" cy="203.3" r="4.25"/>
<circle cx="710.24" cy="206.3" r="4.25"/>
<circle cx="710.24" cy="209.9" r="4.25"/>
<circle cx="710.24" cy="213.5" r="4.25"/>
<circle cx="710.24" cy="217.7" r="4.25"/>
<circle cx="710.24" cy="224.1" r="4.25"/>
<circle cx="710.24" cy="228.3" r="4.25"/>
<circle cx="710.24" cy="233.9" r="4.25"/>
<circle cx="710.24" cy="240.9" r="4.25"/>
<circle cx="710.24" cy="244.5" r="4.25"/>
<circle cx="710.24" cy="248.7" r="4.25"/>
<circle cx="710.24" cy="253.5" r="4.25"/>
<circle cx="710.24" cy="259.1" r="4.25"/>
<circle cx="710.24" cy="265.5" r="4.25"/>
<circle cx="710.24" cy="269.1" r="4.25"/>
<circle cx="710.24" cy="273.3" r="4.25"/>
<circle cx="710.24" cy="277.5" r="4.25"/>
<circle cx="710.24" cy="284.5" r="4.25"/>
<circle cx="710.24" cy="287.5" r="4.25"/>
<circle cx="710.24" cy="291.7" r="4.25"/>
<circle cx="710.24" cy="295.0" r="4.25"/>
<circle cx="710.24" cy="324.6" r="4.25"/>
<circle cx="710.24" cy="333.0" r="4.25"/>
<circle cx="721.03" cy="177.0" r="4.25"/>
<circle cx="721.03" cy="180.0" r="4.25"/>
<circle cx="721.03" cy="184.0" r="4.25"/>
<circle cx="721.03" cy="192.0" r="4.25"/>
<circle cx="721.03" cy="203.0" r="4.25"/>
<circle cx="721.03" cy="209.4" r="4.25"/>
<circle cx="721.03" cy="215.0" r="4.25"/>
<circle cx="721.03" cy="220.6" r="4.25"/>
<circle cx="721.03" cy="224.2" r="4.25"/>
<circle cx="721.03" cy="229.8" r="4.25"/>
<circle cx="721.03" cy="234.6" r="4.25"/>
<circle cx="721.03" cy="238.2" r="4.25"/>
<circle cx="721.03" cy="243.0" r="4.25"/>
<circle cx="721.03" cy="246.0" r="4.25"/>
<circle cx="721.03" cy="252.4" r="4.25"/>
<circle cx="721.03" cy="259.4" r="4.25"/>
<circle cx="721.03" cy="265.8" r="4.25"/>
<circle cx="721.03" cy="270.6" r="4.25"/>
<circle cx="721.03" cy="277.0" r="4.25"/>
<circle cx="721.03" cy="281.8" r="4.25"/>
<circle cx="721.03" cy="287.4" r="4.25"/>
<circle cx="721.03" cy="294.4" r="4.25"/>
<circle cx="721.03" cy="299.2" r="4.25"/>
<circle cx="721.03" cy="302.6" r="4.25"/>
<circle cx="721.03" cy="334.0" r="4.25"/>
<circle cx="732.02" cy="172.0" r="4.25"/>
<circle cx="732.02" cy="176.2" r="4.25"/>
<circle cx="732.02" cy="183.0" r="4.25"/>
<circle cx="732.02" cy="196.0" r="4.25"/>
<circle cx="732.02" cy="199.6" r="4.25"/>
<circle cx="732.02" cy="203.2" r="4.25"/>
<circle cx="732.02" cy="207.4" r="4.25"/>
<circle cx="732.02" cy="211.0" r="4.25"/>
<circle cx="732.02" cy="218.0" r="4.25"/>
<circle cx="732.02" cy="224.4" r="4.25"/>
<circle cx="732.02" cy="230.8" r="4.25"/>
<circle cx="732.02" cy="237.2" r="4.25"/>
<circle cx="732.02" cy="240.8" r="4.25"/>
<circle cx="732.02" cy="245.6" r="4.25"/>
<circle cx="732.02" cy="249.8" r="4.25"/>
<circle cx="732.02" cy="252.8" r="4.25"/>
<circle cx="732.02" cy="259.8" r="4.25"/>
<circle cx="732.02" cy="263.4" r="4.25"/>
<circle cx="732.02" cy="266.4" r="4.25"/>
<circle cx="732.02" cy="269.4" r="4.25"/>
<circle cx="732.02" cy="275.8" r="4.25"/>
<circle cx="732.02" cy="282.2" r="4.25"/>
<circle cx="732.02" cy="286.4" r="4.25"/>
<circle cx="732.02" cy="291.2" r="4.25"/>
<circle cx="732.02" cy="294.8" r="4.25"/>
<circle cx="732.02" cy="297.8" r="4.25"/>
<circle cx="732.02" cy="300.8" r="4.25"/>
<circle cx="732.02" cy="304.0" r="4.25"/>
<circle cx="732.02" cy="333.6" r="4.25"/>
<circle cx="743.02" cy="175.4" r="4.25"/>
<circle cx="743.02" cy="193.0" r="4.25"/>
<circle cx="743.02" cy="200.0" r="4.25"/>
<circle cx="743.02" cy="204.8" r="4.25"/>
<circle cx="743.02" cy="211.8" r="4.25"/>
<circle cx="743.02" cy="217.4" r="4.25"/>
<circle cx="743.02" cy="223.8" r="4.25"/>
<circle cx="743.02" cy="228.0" r="4.25"/>
<circle cx="743.02" cy="233.6" r="4.25"/>
<circle cx="743.02" cy="237.2" r="4.25"/>
<circle cx="743.02" cy="243.6" r="4.25"/>
<circle cx="743.02" cy="247.8" r="4.25"/>
<circle cx="743.02" cy="250.8" r="4.25"/>
<circle cx="743.02" cy="255.6" r="4.25"/>
<circle cx="743.02" cy="259.2" r="4.25"/>
<circle cx="743.02" cy="262.8" r="4.25"/>
<circle cx="743.02" cy="267.0" r="4.25"/>
<circle cx="743.02" cy="271.8" r="4.25"/>
<circle cx="743.02" cy="274.8" r="4.25"/>
<circle cx="743.02" cy="279.0" r="4.25"/>
<circle cx="743.02" cy="283.2" r="4.25"/>
<circle cx="743.02" cy="286.0" r="4.25"/>
<circle cx="743.02" cy="295.0" r="4.25"/>
<circle cx="743.02" cy="300.6" r="4.25"/>
<circle cx="743.02" cy="304.8" r="4.25"/>
<circle cx="743.02" cy="307.0" r="4.25"/>
<circle cx="754.01" cy="174.0" r="4.25"/>
<circle cx="754.01" cy="198.0" r="4.25"/>
<circle cx="754.01" cy="201.0" r="4.25"/>
<circle cx="754.01" cy="205.2" r="4.25"/>
<circle cx="754.01" cy="208.8" r="4.25"/>
<circle cx="754.01" cy="213.0" r="4.25"/>
<circle cx="754.01" cy="216.6" r="4.25"/>
<circle cx="754.01" cy="219.6" r="4.25"/>
<circle cx="754.01" cy="223.8" r="4.25"/>
<circle cx="754.01" cy="228.6" r="4.25"/>
<circle cx="754.01" cy="231.6" r="4.25"/>
<circle cx="754.01" cy="236.4" r="4.25"/>
<circle cx="754.01" cy="240.6" r="4.25"/>
<circle cx="754.01" cy="246.2" r="4.25"/>
<circle cx="754.01" cy="252.6" r="4.25"/>
<circle cx="754.01" cy="256.2" r="4.25"/>
<circle cx="754.01" cy="259.8" r="4.25"/>
<circle cx="754.01" cy="264.4" r="4.25"/>
<circle cx="754.01" cy="279.0" r="4.25"/>
<circle cx="754.01" cy="286.0" r="4.25"/>
<circle cx="754.01" cy="289.0" r="4.25"/>
<circle cx="754.01" cy="292.0" r="4.25"/>
<circle cx="754.01" cy="296.2" r="4.25"/>
<circle cx="754.01" cy="303.2" r="4.25"/>
<circle cx="754.01" cy="306.2" r="4.25"/>
<circle cx="754.01" cy="309.0" r="4.25"/>
<circle cx="765.01" cy="175.0" r="4.25"/>
<circle cx="765.01" cy="179.8" r="4.25"/>
<circle cx="765.01" cy="184.0" r="4.25"/>
<circle cx="765.01" cy="194.0" r="4.25"/>
<circle cx="765.01" cy="197.0" r="4.25"/>
<circle cx="765.01" cy="201.8" r="4.25"/>
<circle cx="765.01" cy="204.8" r="4.25"/>
<circle cx="765.01" cy="209.0" r="4.25"/>
<circle cx="765.01" cy="213.2" r="4.25"/>
<circle cx="765.01" cy="219.6" r="4.25"/>
<circle cx="765.01" cy="223.2" r="4.25"/>
<circle cx="765.01" cy="226.2" r="4.25"/>
<circle cx="765.01" cy="231.8" r="4.25"/>
<circle cx="765.01" cy="237.4" r="4.25"/>
<circle cx="765.01" cy="244.4" r="4.25"/>
<circle cx="765.01" cy="251.4" r="4.25"/>
<circle cx="765.01" cy="255.0" r="4.25"/>
<circle cx="765.01" cy="261.0" r="4.25"/>
<circle cx="765.01" cy="273.0" r="4.25"/>
<circle cx="765.01" cy="279.4" r="4.25"/>
<circle cx="765.01" cy="287.0" r="4.25"/>
<circle cx="765.01" cy="298.0" r="4.25"/>
<circle cx="765.01" cy="303.6" r="4.25"/>
<circle cx="765.01" cy="306.0" r="4.25"/>
<circle cx="765.01" cy="314.6" r="4.25"/>
<circle cx="776.00" cy="179.0" r="4.25"/>
<circle cx="776.00" cy="184.0" r="4.25"/>
<circle cx="776.00" cy="198.0" r="4.25"/>
<circle cx="776.00" cy="202.2" r="4.25"/>
<circle cx="776.00" cy="208.6" r="4.25"/>
<circle cx="776.00" cy="213.4" r="4.25"/>
<circle cx="776.00" cy="217.0" r="4.25"/>
<circle cx="776.00" cy="221.2" r="4.25"/>
<circle cx="776.00" cy="227.6" r="4.25"/>
<circle cx="776.00" cy="233.0" r="4.25"/>
<circle cx="776.00" cy="244.0" r="4.25"/>
<circle cx="776.00" cy="250.4" r="4.25"/>
<circle cx="776.00" cy="254.0" r="4.25"/>
<circle cx="776.00" cy="257.0" r="4.25"/>
<circle cx="776.00" cy="264.0" r="4.25"/>
<circle cx="776.00" cy="267.0" r="4.25"/>
<circle cx="776.00" cy="278.4" r="4.25"/>
<circle cx="776.00" cy="284.8" r="4.25"/>
<circle cx="776.00" cy="290.4" r="4.25"/>
<circle cx="776.00" cy="296.8" r="4.25"/>
<circle cx="776.00" cy="301.6" r="4.25"/>
<circle cx="776.00" cy="308.0" r="4.25"/>
<circle cx="776.00" cy="311.6" r="4.25"/>
</g>
<line x1="178" x2="805" y1="201.5" y2="201.5" stroke="#0d0d0d" stroke-width="1"/>
<polyline points="233.70,147.4 255.69,141.4 277.48,142.4 299.46,124.2 323.25,117.2 346.84,118.2 359.63,125.8 367.23,123.4 381.62,132.8 390.61,133.4 412.60,116.8 436.19,132.6 447.18,126.4 458.18,132.4 480.16,103.2 491.16,129.6 501.95,139 513.15,131 523.94,143 534.93,137 545.73,144.2 556.92,131.8 567.72,144.2 578.91,151.2 589.70,154.4 600.70,158.8 611.69,151.5 622.48,154.2 633.48,158.6 644.47,159.2 655.67,160.8 666.86,160.4 677.45,157.2 688.45,152.2 699.44,157.4 710.24,161 721.03,168.8 732.02,164 743.02,161.2 754.01,156.8 765.01,158.4 776.00,161.6" fill="none" stroke="#0d0d0d" stroke-width="1"/>
<g fill="#2e45b8" stroke="#0b1030" stroke-width="1.25">
<circle cx="233.70" cy="147.4" r="3.85"/>
<circle cx="255.69" cy="141.4" r="3.85"/>
<circle cx="277.48" cy="142.4" r="3.85"/>
<circle cx="299.46" cy="124.2" r="3.85"/>
<circle cx="323.25" cy="117.2" r="3.85"/>
<circle cx="346.84" cy="118.2" r="3.85"/>
<circle cx="359.63" cy="125.8" r="3.85"/>
<circle cx="367.23" cy="123.4" r="3.85"/>
<circle cx="381.62" cy="132.8" r="3.85"/>
<circle cx="390.61" cy="133.4" r="3.85"/>
<circle cx="412.60" cy="116.8" r="3.85"/>
<circle cx="436.19" cy="132.6" r="3.85"/>
<circle cx="447.18" cy="126.4" r="3.85"/>
<circle cx="458.18" cy="132.4" r="3.85"/>
<circle cx="480.16" cy="103.2" r="3.85"/>
<circle cx="491.16" cy="129.6" r="3.85"/>
<circle cx="501.95" cy="139" r="3.85"/>
<circle cx="513.15" cy="131" r="3.85"/>
<circle cx="523.94" cy="143" r="3.85"/>
<circle cx="534.93" cy="137" r="3.85"/>
<circle cx="545.73" cy="144.2" r="3.85"/>
<circle cx="556.92" cy="131.8" r="3.85"/>
<circle cx="567.72" cy="144.2" r="3.85"/>
<circle cx="578.91" cy="151.2" r="3.85"/>
<circle cx="589.70" cy="154.4" r="3.85"/>
<circle cx="600.70" cy="158.8" r="3.85"/>
<circle cx="611.69" cy="151.5" r="3.85"/>
<circle cx="622.48" cy="154.2" r="3.85"/>
<circle cx="633.48" cy="158.6" r="3.85"/>
<circle cx="644.47" cy="159.2" r="3.85"/>
<circle cx="655.67" cy="160.8" r="3.85"/>
<circle cx="666.86" cy="160.4" r="3.85"/>
<circle cx="677.45" cy="157.2" r="3.85"/>
<circle cx="688.45" cy="152.2" r="3.85"/>
<circle cx="699.44" cy="157.4" r="3.85"/>
<circle cx="710.24" cy="161" r="3.85"/>
<circle cx="721.03" cy="168.8" r="3.85"/>
<circle cx="732.02" cy="164" r="3.85"/>
<circle cx="743.02" cy="161.2" r="3.85"/>
<circle cx="754.01" cy="156.8" r="3.85"/>
<circle cx="765.01" cy="158.4" r="3.85"/>
<circle cx="776.00" cy="161.6" r="3.85"/>
</g>
<line x1="228.5" x2="228.5" y1="470" y2="477.4" stroke="#0d0d0d" stroke-width="1"/>
<line x1="337.5" x2="337.5" y1="470" y2="477.4" stroke="#0d0d0d" stroke-width="1"/>
<line x1="447.5" x2="447.5" y1="470" y2="477.4" stroke="#0d0d0d" stroke-width="1"/>
<line x1="556.5" x2="556.5" y1="470" y2="477.4" stroke="#0d0d0d" stroke-width="1"/>
<line x1="666.5" x2="666.5" y1="470" y2="477.4" stroke="#0d0d0d" stroke-width="1"/>
<line x1="775.5" x2="775.5" y1="470" y2="477.4" stroke="#0d0d0d" stroke-width="1"/>
<line x1="170" x2="805" y1="502.5" y2="502.5" stroke="#d9d9d9" stroke-width="1"/>
<line x1="178" x2="805" y1="21.5" y2="21.5" stroke="#0d0d0d" stroke-width="1"/>
</svg>
<div class="layer">
<div class="t" style="top:34.76px;font-size:20.6px;left:177.8px;transform-origin:left center;transform:scaleX(0.966);font-weight:bold;-webkit-text-stroke:0;">2000-2025</div>
<div class="t" style="top:72.29px;font-size:13.6px;left:177.8px;transform-origin:left center;transform:scaleX(0.93);">150%</div>
<div class="t" style="top:72.29px;font-size:13.6px;left:212.8px;transform-origin:left center;transform:scaleX(0.9);font-style:italic;">log scale</div>
<div class="t" style="top:100.02px;font-size:13.8px;left:177.1px;transform-origin:left center;transform:scaleX(0.95);">100</div>
<div class="t" style="top:135.02px;font-size:13.8px;left:177.9px;transform-origin:left center;transform:scaleX(1.02);">50</div>
<div class="t" style="top:182.93px;font-size:15.2px;left:178.6px;transform-origin:left center;transform:scaleX(0.845);-webkit-text-stroke:0.75px #0d0d0d;">US$</div>
<div class="t" style="top:221.02px;font-size:13.8px;left:178.6px;transform-origin:left center;">-25</div>
<div class="t" style="top:271.22px;font-size:13.8px;left:178.6px;transform-origin:left center;">-50</div>
<div class="t" style="top:357.22px;font-size:13.8px;left:178.6px;transform-origin:left center;">-75</div>
<div class="t" style="top:132.79px;font-size:15.6px;left:702.4px;transform-origin:left center;transform:scaleX(0.963);-webkit-text-stroke:0.2px #0d0d0d;">Switzerland</div>
<div class="t" style="top:479.61px;font-size:14.4px;left:128.3px;width:200px;text-align:center;transform-origin:center center;">2000</div>
<div class="t" style="top:479.61px;font-size:14.4px;left:237.60000000000002px;width:200px;text-align:center;transform-origin:center center;">05</div>
<div class="t" style="top:479.61px;font-size:14.4px;left:347.5px;width:200px;text-align:center;transform-origin:center center;"><span style="letter-spacing:-1.7px;margin-left:-1.2px">1</span>0</div>
<div class="t" style="top:479.61px;font-size:14.4px;left:456.6px;width:200px;text-align:center;transform-origin:center center;"><span style="letter-spacing:-1.7px;margin-left:-1.2px">1</span>5</div>
<div class="t" style="top:479.61px;font-size:14.4px;left:566.1px;width:200px;text-align:center;transform-origin:center center;">20</div>
<div class="t" style="top:479.61px;font-size:14.4px;left:675.0px;width:200px;text-align:center;transform-origin:center center;">25</div>
<div class="t" style="top:521.16px;font-size:15.4px;right:196.39999999999998px;transform-origin:right center;transform:scaleX(0.809);color:#6a6a6a;">Sources: McDonald’s; LSEG Workspace; IMF; Eurostat; LebaneseLira.org; Banque du Liban; <i>The Economist</i></div>
</div>
</body>
</html>
